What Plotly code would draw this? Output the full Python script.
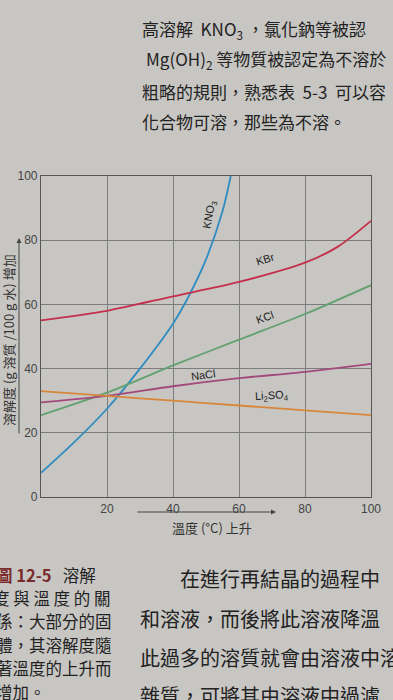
import plotly.graph_objects as go

# ---- data ----
kno3_t = [0, 10, 20, 30, 40, 45, 50, 55, 57.5]
kno3_v = [7.5, 17, 27.5, 40, 54, 63, 74, 89, 100]
kbr_t = [0, 20, 40, 60, 80, 90, 100]
kbr_v = [55, 58, 62.5, 67, 73, 78, 86]
kcl_t = [0, 20, 40, 60, 80, 100]
kcl_v = [25.5, 32.5, 41, 49, 57, 66]
nacl_t = [0, 20, 40, 60, 80, 100]
nacl_v = [29.5, 31.5, 34.5, 37, 39, 41.5]
li_t = [0, 20, 40, 60, 80, 100]
li_v = [33, 31.5, 30, 28.5, 27, 25.5]
x_ticks = [20, 40, 60, 80, 100]
y_ticks = [0, 20, 40, 60, 80, 100]

W, H = 393, 700
L, R, T, B = 41, 371, 176, 497
BG = "#c7c6c2"
CJK = "Noto Sans CJK TC"
NB = "\u00a0"


def px(x, y):
    return (x - L) / (R - L), (B - y) / (B - T)


fig = go.Figure()
series = [
    (kno3_t, kno3_v, "#2f8cc2"),
    (kbr_t, kbr_v, "#c52f4c"),
    (kcl_t, kcl_v, "#62a070"),
    (nacl_t, nacl_v, "#a34a7c"),
    (li_t, li_v, "#d8873a"),
]
for t, v, c in series:
    fig.add_trace(go.Scatter(x=t, y=v, mode="lines", line=dict(color=c, width=1.8, shape="spline", smoothing=0.8),
                             showlegend=False, hoverinfo="skip"))

ann = []
lab = dict(font=dict(family="Liberation Sans", size=11, color="#222"), showarrow=False,
           xanchor="center", yanchor="middle")
ann.append(dict(x=51, y=88, text="KNO<sub>3</sub>", textangle=-80, **lab))
ann.append(dict(x=68, y=74, text="KBr", textangle=-17, **lab))
ann.append(dict(x=68, y=56, text="KCl", textangle=-20, **lab))
ann.append(dict(x=49, y=38, text="NaCl", textangle=-8, **lab))
ann.append(dict(x=70, y=31.5, text="Li<sub>2</sub>SO<sub>4</sub>", textangle=-3, **lab))

# axis titles
xp, yp = px(8, 340)
ann.append(dict(x=xp, y=yp, xref="paper", yref="paper", xanchor="center", yanchor="middle",
                text="溶解度 (g 溶質 /100 g 水) 增加", textangle=-90,
                showarrow=False, font=dict(family=CJK, size=13, color="#333")))
hx, hy = px(19, 238)
ann.append(dict(x=hx, y=hy, xref="paper", yref="paper", ax=0, ay=197, text="", showarrow=True,
                arrowhead=2, arrowsize=1, arrowwidth=1, arrowcolor="#444"))
xp, yp = px(212, 527)
ann.append(dict(x=xp, y=yp, xref="paper", yref="paper", xanchor="center", yanchor="middle",
                text="溫度 (°C) 上升", showarrow=False,
                font=dict(family=CJK, size=13, color="#333")))
hx, hy = px(276, 512)
ann.append(dict(x=hx, y=hy, xref="paper", yref="paper", ax=-140, ay=0, text="", showarrow=True,
                arrowhead=2, arrowsize=1, arrowwidth=1, arrowcolor="#444"))

# surrounding page text
page = [
    (140, 30, "高溶解" + NB * 2 + "KNO<sub>3</sub>" + NB + "，氯化鈉等被認", 17),
    (144, 60, "Mg(OH)<sub>2</sub> 等物質被認定為不溶於", 17),
    (140, 91, "粗略的規則，熟悉表" + NB * 2 + "5-3" + NB * 2 + "可以容", 17),
    (140, 121, "化合物可溶，那些為不溶。", 17),
    (-6, 575, "<b><span style='color:#7a2a2a'>圖 12-5</span></b>" + NB * 3 + "溶解", 16.5),
    (-9, 598, "度 與 溫 度 的 關", 16.5),
    (-6, 621, "係：大部分的固", 16.5),
    (-6, 645, "體，其溶解度隨", 16.5),
    (-6, 668, "著溫度的上升而", 16.5),
    (-6, 692, "增加。", 16.5),
    (178, 578, "在進行再結晶的過程中", 20),
    (138, 618, "和溶液，而後將此溶液降溫", 20),
    (138, 657, "此過多的溶質就會由溶液中溶", 20),
    (138, 695, "雜質，可將其由溶液中過濾", 20),
]
for x0, y0, txt, sz in page:
    xp, yp = px(x0, y0)
    ann.append(dict(x=xp, y=yp, xref="paper", yref="paper", xanchor="left", yanchor="middle", text=txt,
                    showarrow=False, font=dict(family=CJK, size=sz, color="#222")))

axis_common = dict(range=[0, 100], showline=True, linecolor="#555", linewidth=1.2, mirror=True,
                   showgrid=True, gridcolor="#7d7d7d", gridwidth=1, zeroline=False, ticks="",
                   tickfont=dict(family="Liberation Sans", size=12, color="#444"))
fig.update_layout(
    width=W, height=H, margin=dict(l=L, r=W - R, t=T, b=H - B),
    paper_bgcolor=BG, plot_bgcolor=BG,
    xaxis=dict(tickvals=x_ticks, **axis_common),
    yaxis=dict(tickvals=y_ticks, **axis_common),
    annotations=ann,
)
fig.write_html(
    "out.html",
    config={"displayModeBar": False},
    post_script="document.body.style.margin='0';document.body.style.background='%s';" % BG,
)
